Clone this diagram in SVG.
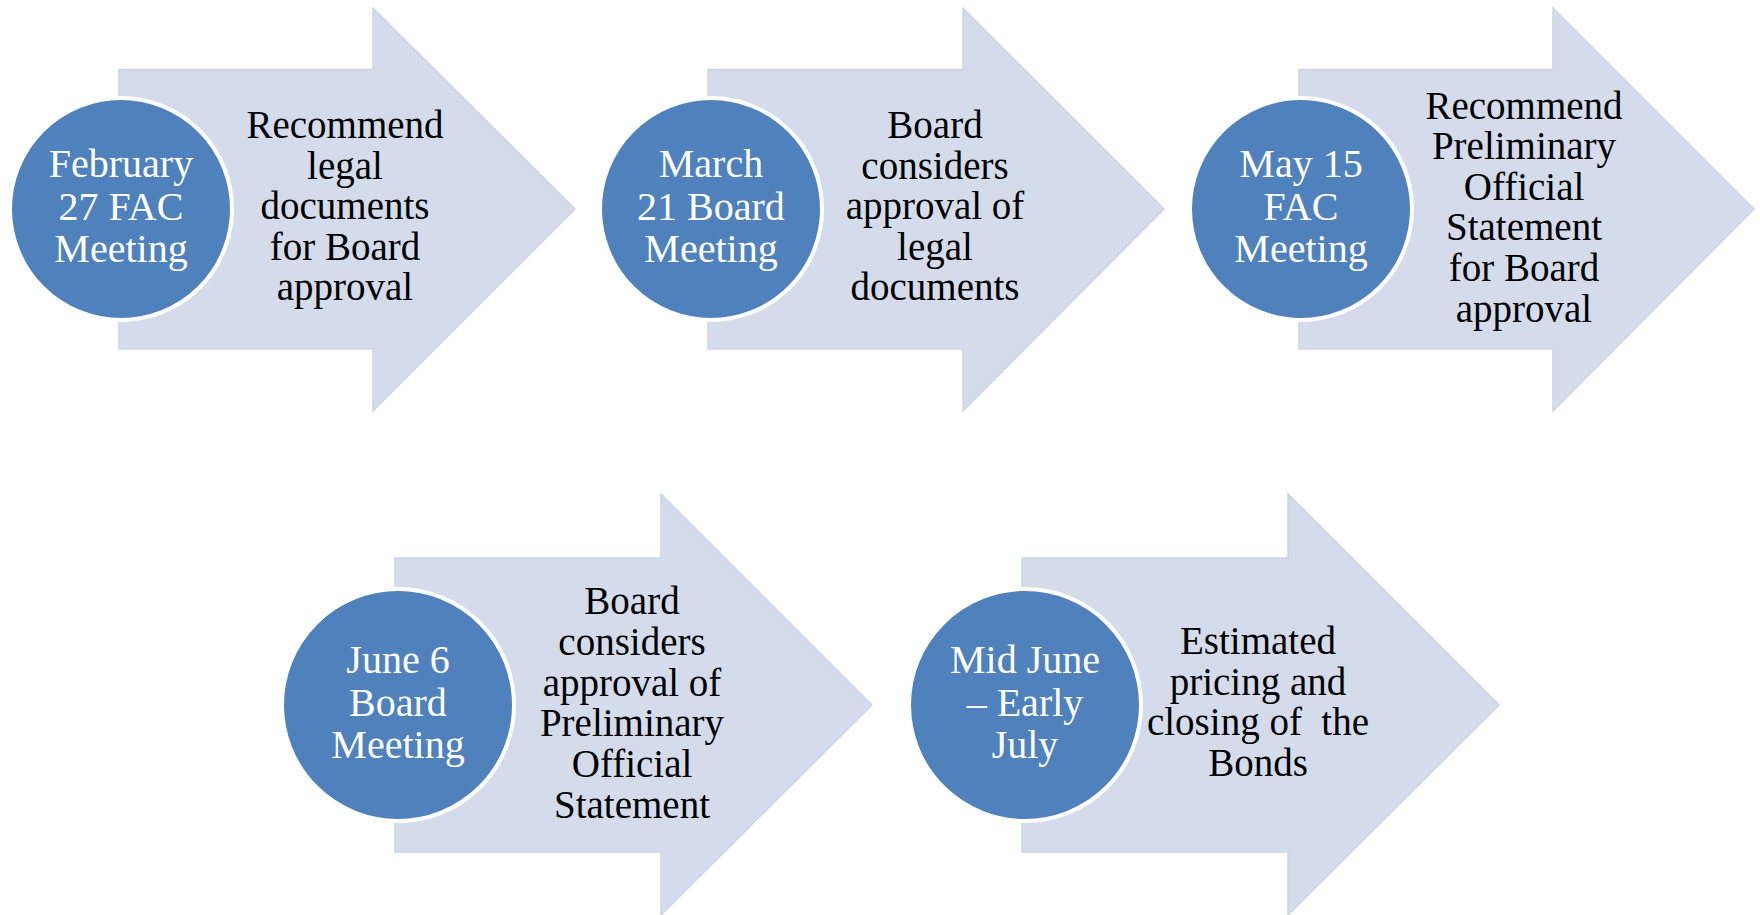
<svg xmlns="http://www.w3.org/2000/svg" width="1760" height="915" viewBox="0 0 1760 915">
<style>
.arr{fill:#D4DCEB;stroke:#CBD4E6;stroke-width:1.5}
.cir{fill:#4F81BD;stroke:#FFFFFF;stroke-width:4}
.t{font-family:"Liberation Serif","Times New Roman",serif;font-size:39px;text-anchor:middle;fill:#000}
.w{font-family:"Liberation Serif","Times New Roman",serif;font-size:40px;text-anchor:middle;fill:#FFFFFF}
</style>
<rect width="1760" height="915" fill="#FFFFFF"/>
<g id="connectors"></g>
<g id="step1">
<polygon class="arr" points="119,69.5 373,69.5 373,8 575,209 373,411 373,349 119,349"/>
<circle class="cir" cx="121" cy="209" r="111"/>
<text class="w"><tspan x="121" y="177">February</tspan><tspan x="121" y="220">27 FAC</tspan><tspan x="121" y="262">Meeting</tspan></text>
<text class="t"><tspan x="345" y="138">Recommend</tspan><tspan x="345" y="178.5">legal</tspan><tspan x="345" y="219">documents</tspan><tspan x="345" y="259.5">for Board</tspan><tspan x="345" y="300">approval</tspan></text>
</g>
<g id="step2">
<polygon class="arr" points="708,69.5 963,69.5 963,8 1164,209 963,411 963,349 708,349"/>
<circle class="cir" cx="711" cy="209" r="111"/>
<text class="w"><tspan x="711" y="177">March</tspan><tspan x="711" y="220">21 Board</tspan><tspan x="711" y="262">Meeting</tspan></text>
<text class="t"><tspan x="935" y="138">Board</tspan><tspan x="935" y="178.5">considers</tspan><tspan x="935" y="219">approval of</tspan><tspan x="935" y="259.5">legal</tspan><tspan x="935" y="300">documents</tspan></text>
</g>
<g id="step3">
<polygon class="arr" points="1299,69.5 1553,69.5 1553,8 1754,209 1553,411 1553,349 1299,349"/>
<circle class="cir" cx="1301" cy="209" r="111"/>
<text class="w"><tspan x="1301" y="177">May 15</tspan><tspan x="1301" y="220">FAC</tspan><tspan x="1301" y="262">Meeting</tspan></text>
<text class="t"><tspan x="1524" y="118.5">Recommend</tspan><tspan x="1524" y="159">Preliminary</tspan><tspan x="1524" y="199.7">Official</tspan><tspan x="1524" y="240.4">Statement</tspan><tspan x="1524" y="281">for Board</tspan><tspan x="1524" y="321.8">approval</tspan></text>
</g>
<g id="step4">
<polygon class="arr" points="395,558 661,558 661,494 872,705 661,915 661,852 395,852"/>
<circle class="cir" cx="398" cy="705" r="116"/>
<text class="w"><tspan x="398" y="673">June 6</tspan><tspan x="398" y="716">Board</tspan><tspan x="398" y="758">Meeting</tspan></text>
<text class="t"><tspan x="632" y="614.3">Board</tspan><tspan x="632" y="655">considers</tspan><tspan x="632" y="695.7">approval of</tspan><tspan x="632" y="736.4">Preliminary</tspan><tspan x="632" y="777">Official</tspan><tspan x="632" y="817.8">Statement</tspan></text>
</g>
<g id="step5">
<polygon class="arr" points="1022,558 1288,558 1288,494 1499,705 1288,915 1288,852 1022,852"/>
<circle class="cir" cx="1025" cy="705" r="116"/>
<text class="w"><tspan x="1025" y="673">Mid June</tspan><tspan x="1025" y="716">– Early</tspan><tspan x="1025" y="758">July</tspan></text>
<text class="t" xml:space="preserve"><tspan x="1258" y="654">Estimated</tspan><tspan x="1258" y="694.7">pricing and</tspan><tspan x="1258" y="735.4">closing of  the</tspan><tspan x="1258" y="776">Bonds</tspan></text>
</g>
</svg>
